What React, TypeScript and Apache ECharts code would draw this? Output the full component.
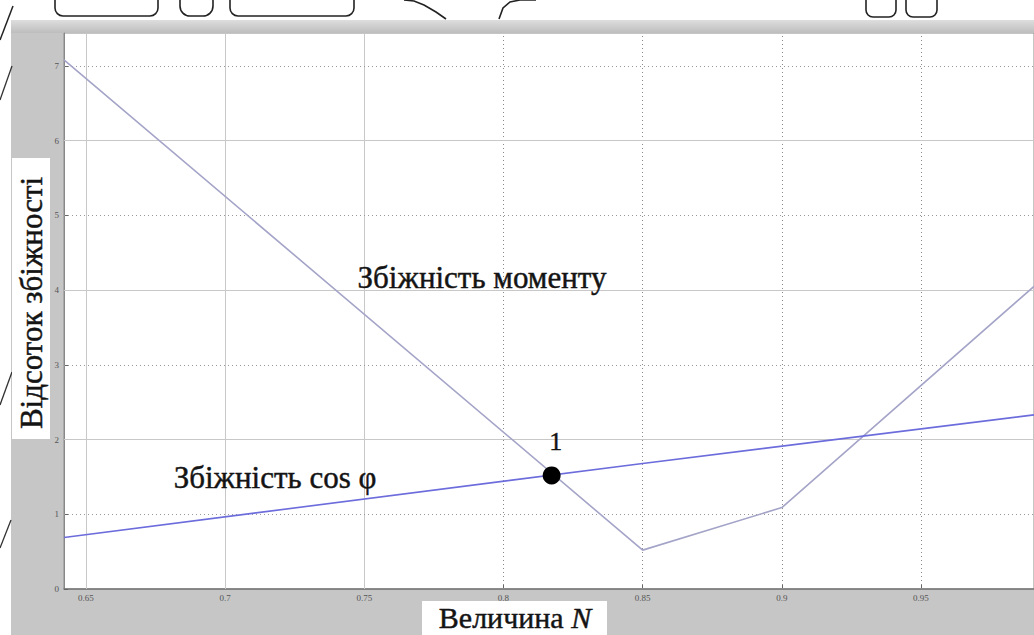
import React, { useEffect, useRef } from "react";
import * as echarts from "echarts";

// ---- data ----
const xTicks = [0.65, 0.7, 0.75, 0.8, 0.85, 0.9, 0.95];
const yTicks = [0, 1, 2, 3, 4, 5, 6, 7];
const xRange = [0.6421, 0.9906];
const yRange = [0, 7.44];

const momentX = [0.6421, 0.85, 0.9, 0.9906];
const momentY = [7.08, 0.52, 1.09, 4.05];

const cosX = [0.6421, 0.85, 0.9906];
const cosY = [0.69, 1.68, 2.33];

const pointX = [0.8173];
const pointY = [1.52];
const pointLabels = ["1"];

const SERIF = "Liberation Serif, Times New Roman, DejaVu Serif, serif";
const INK = "#141414";
const heavy = { fill: INK, stroke: INK, lineWidth: 0.45 };

export default function App() {
  const ref = useRef<HTMLDivElement>(null);

  useEffect(() => {
    if (!ref.current) return;
    const chart = echarts.init(ref.current, null, { renderer: "svg" });

    const xGrid = xTicks.map((v) => ({
      xAxis: v,
      lineStyle: v < 0.78
        ? { color: "#c8c8c8", type: "solid" as const, width: 1 }
        : { color: "#8a8a8a", type: [1, 3] as any, width: 1 },
    }));
    const yGrid = yTicks.slice(1).map((v) => ({
      yAxis: v,
      lineStyle: v % 2 === 0
        ? { color: "#c8c8c8", type: "solid" as const, width: 1.2 }
        : { color: "#999", type: [1, 3] as any, width: 1 },
    }));

    const outline = { stroke: "#222", lineWidth: 1.6, fill: "none" };

    chart.setOption({
      animation: false,
      backgroundColor: "#c6c6c6",
      textStyle: { fontFamily: SERIF },
      grid: {
        left: 64,
        top: 33,
        right: 0,
        bottom: 46,
        show: true,
        backgroundColor: "#ffffff",
        borderColor: "#8c8c8c",
        borderWidth: 1,
      },
      xAxis: {
        type: "value",
        min: xRange[0],
        max: xRange[1],
        axisLine: { show: true, lineStyle: { color: "#777", width: 1.5 } },
        axisTick: {
          show: true,
          inside: true,
          length: 5,
          customValues: xTicks,
          lineStyle: { color: "#666" },
        },
        axisLabel: {
          customValues: xTicks,
          formatter: (v: number) => String(Number(v.toFixed(2))),
          fontSize: 9,
          color: "#555",
          fontFamily: SERIF,
          margin: 4,
        },
        splitLine: { show: false },
      },
      yAxis: {
        type: "value",
        min: yRange[0],
        max: yRange[1],
        axisLine: { show: true, lineStyle: { color: "#888", width: 1 } },
        axisTick: {
          show: true,
          inside: true,
          length: 4,
          customValues: yTicks,
          lineStyle: { color: "#666" },
        },
        axisLabel: {
          customValues: yTicks,
          fontSize: 9,
          color: "#555",
          fontFamily: SERIF,
          margin: 5,
        },
        splitLine: { show: false },
      },
      series: [
        {
          type: "line",
          name: "grid",
          data: [],
          silent: true,
          markLine: {
            silent: true,
            symbol: "none",
            label: { show: false },
            data: [...xGrid, ...yGrid],
            z: 1,
          },
          z: 1,
        },
        {
          type: "line",
          name: "Збіжність моменту",
          data: momentX.map((x, i) => [x, momentY[i]]),
          showSymbol: false,
          lineStyle: { color: "#a4a4c8", width: 1.6 },
          z: 3,
        },
        {
          type: "line",
          name: "Збіжність cos φ",
          data: cosX.map((x, i) => [x, cosY[i]]),
          showSymbol: false,
          lineStyle: { color: "#6c6cdc", width: 1.6 },
          z: 3,
        },
        {
          type: "scatter",
          name: "1",
          data: pointX.map((x, i) => ({ value: [x, pointY[i]], name: pointLabels[i] })),
          symbolSize: 18,
          itemStyle: { color: "#000", opacity: 1 },
          label: {
            show: true,
            position: "top",
            distance: 12,
            formatter: (p: any) => p.name,
            fontSize: 26,
            fontFamily: SERIF,
            color: INK,
            textBorderColor: INK,
            textBorderWidth: 0.4,
            offset: [4, 0],
          },
          z: 5,
        },
      ],
      graphic: [
        // white margins of the scan
        { type: "rect", shape: { x: 0, y: 0, width: 1034, height: 20 }, style: { fill: "#fff" }, silent: true },
        { type: "rect", shape: { x: 0, y: 0, width: 11, height: 635 }, style: { fill: "#fff" }, silent: true },
        {
          type: "rect",
          shape: { x: 11, y: 20, width: 1023, height: 13 },
          style: {
            fill: new echarts.graphic.LinearGradient(0, 0, 0, 1, [
              { offset: 0, color: "#dedede" },
              { offset: 1, color: "#bdbdbd" },
            ]),
          },
          silent: true,
        },
        // scan artefacts at the top
        { type: "rect", shape: { x: 55, y: -10, width: 103, height: 26, r: 8 }, style: outline, silent: true },
        { type: "rect", shape: { x: 180, y: -10, width: 33, height: 26, r: 10 }, style: outline, silent: true },
        { type: "rect", shape: { x: 230, y: -10, width: 124, height: 26, r: 8 }, style: outline, silent: true },
        { type: "polyline", shape: { points: [[404, 0], [414, 1], [424, 5], [436, 12], [446, 19]] }, style: outline, silent: true },
        { type: "polyline", shape: { points: [[499, 19], [503, 8], [510, 2], [520, 0], [536, 0]] }, style: outline, silent: true },
        { type: "rect", shape: { x: 866, y: -10, width: 30, height: 27, r: 7 }, style: outline, silent: true },
        { type: "rect", shape: { x: 906, y: -10, width: 31, height: 27, r: 7 }, style: outline, silent: true },
        { type: "line", shape: { x1: 0, y1: 40, x2: 13, y2: 6 }, style: { stroke: "#222", lineWidth: 1.5 }, silent: true },
        { type: "line", shape: { x1: 0, y1: 100, x2: 12, y2: 66 }, style: { stroke: "#333", lineWidth: 1.3 }, silent: true },
        { type: "line", shape: { x1: 0, y1: 405, x2: 12, y2: 372 }, style: { stroke: "#333", lineWidth: 1.3 }, silent: true },
        { type: "line", shape: { x1: 0, y1: 548, x2: 11, y2: 520 }, style: { stroke: "#333", lineWidth: 1.3 }, silent: true },
        // curve annotations
        {
          type: "text",
          x: 482,
          y: 277,
          style: {
            text: "Збіжність моменту",
            fontSize: 31,
            fontFamily: SERIF,
            ...heavy,
            align: "center",
            verticalAlign: "middle",
          },
          z: 20,
        },
        {
          type: "text",
          x: 275,
          y: 477,
          style: {
            text: "Збіжність cos φ",
            fontSize: 31,
            fontFamily: SERIF,
            ...heavy,
            align: "center",
            verticalAlign: "middle",
          },
          z: 20,
        },
        // x axis name in a white box
        { type: "rect", shape: { x: 422, y: 601, width: 185, height: 40 }, style: { fill: "#fff" }, z: 20, silent: true },
        {
          type: "text",
          x: 515,
          y: 617,
          style: {
            text: "{a|Величина }{b|N}",
            align: "center",
            verticalAlign: "middle",
            ...heavy,
            rich: {
              a: { fontSize: 30, fontFamily: SERIF, ...heavy },
              b: { fontSize: 30, fontFamily: SERIF, fontStyle: "italic", ...heavy },
            },
          },
          z: 21,
        },
        // y axis name in a white box
        { type: "rect", shape: { x: 12, y: 158, width: 38, height: 281 }, style: { fill: "#fff" }, z: 20, silent: true },
        {
          type: "text",
          x: 31,
          y: 303,
          rotation: Math.PI / 2,
          style: {
            text: "Відсоток збіжності",
            fontSize: 31,
            fontFamily: SERIF,
            ...heavy,
            align: "center",
            verticalAlign: "middle",
          },
          z: 21,
        },
      ],
    });

    return () => chart.dispose();
  }, []);

  return (
    <div
      ref={ref}
      style={{ position: "fixed", left: 0, top: 0, width: 1034, height: 635 }}
    />
  );
}
